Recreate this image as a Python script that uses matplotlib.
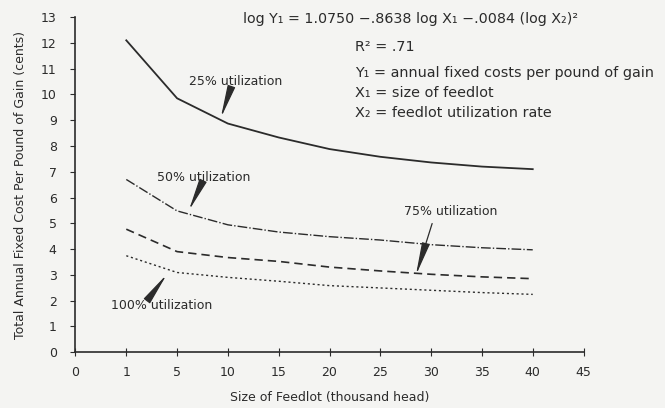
import matplotlib
matplotlib.use('Agg')
import matplotlib.pyplot as plt

# x axis is drawn as evenly spaced categories
tick_sizes = [0, 1, 5, 10, 15, 20, 25, 30, 35, 40, 45]
sizes = [1, 5, 10, 15, 20, 25, 30, 35, 40]

u25 = [12.1, 9.85, 8.87, 8.33, 7.88, 7.58, 7.36, 7.2, 7.1]
u50 = [6.7, 5.48, 4.94, 4.66, 4.48, 4.35, 4.17, 4.05, 3.97]
u75 = [4.77, 3.9, 3.67, 3.52, 3.3, 3.15, 3.02, 2.92, 2.85]
u100 = [3.74, 3.09, 2.9, 2.75, 2.58, 2.49, 2.4, 2.31, 2.24]

ink = '#2b2b2b'
paper = '#f4f4f2'

fig = plt.figure(figsize=(6.65, 4.08), dpi=100, facecolor=paper)
ax = fig.add_axes([0.1135, 0.137, 0.764, 0.821])
ax.set_facecolor(paper)

xpos = [tick_sizes.index(s) for s in sizes]
ax.plot(xpos, u25, color=ink, lw=1.3, ls='-')
ax.plot(xpos, u50, color=ink, lw=1.0, dashes=(7, 1.5, 1, 1.5))
ax.plot(xpos, u75, color=ink, lw=1.2, dashes=(5, 3))
ax.plot(xpos, u100, color=ink, lw=1.0, dashes=(1.5, 2))

ax.set_xlim(0, 10)
ax.set_ylim(0, 13)
ax.set_xticks(range(len(tick_sizes)))
ax.set_xticklabels([str(t) for t in tick_sizes])
ax.set_yticks(range(14))
for s in ['top', 'right']:
    ax.spines[s].set_visible(False)
for s in ['left', 'bottom']:
    ax.spines[s].set_color(ink)
    ax.spines[s].set_linewidth(1.2)
ax.tick_params(axis='y', direction='out', length=3.5, colors=ink, labelsize=9, pad=10)
ax.tick_params(axis='x', direction='inout', length=6, colors=ink, labelsize=9, pad=7)

ax.set_xlabel('Size of Feedlot (thousand head)', fontsize=9, color=ink, labelpad=9)
ax.set_ylabel('Total Annual Fixed Cost Per Pound of Gain (cents)', fontsize=9,
              color=ink, labelpad=10)

arrow = dict(arrowstyle='-|>,head_length=1.0,head_width=0.12', color=ink, lw=0.9,
             mutation_scale=20, shrinkA=0, shrinkB=0)
notes = [('25% utilization', (3.16, 10.52), (3.05, 10.2), (2.86, 9.09)),
         ('50% utilization', (2.53, 6.77), (2.44, 6.36), (2.23, 5.49)),
         ('75% utilization', (7.39, 5.45), (7.02, 4.99), (6.70, 2.98)),
         ('100% utilization', (1.70, 1.82), (1.43, 2.05), (1.80, 3.02))]
for label, txt, tail, tip in notes:
    ax.text(txt[0], txt[1], label, ha='center', va='center', fontsize=9, color=ink)
    ax.annotate('', xy=tip, xytext=tail, arrowprops=arrow)

fig.text(243 / 665, 1 - 19 / 408,
         'log Y\u2081 = 1.0750 \u2212.8638 log X\u2081 \u2212.0084 (log X\u2082)\u00b2',
         fontsize=10.3, color=ink, va='center')
legend_lines = ['R\u00b2 = .71',
                'Y\u2081 = annual fixed costs per pound of gain',
                'X\u2081 = size of feedlot',
                'X\u2082 = feedlot utilization rate']
legend_y = [47, 73, 93, 113]
for line, py in zip(legend_lines, legend_y):
    fig.text(355 / 665, 1 - py / 408, line, fontsize=10.4, color=ink, va='center')

fig.savefig('out.png', dpi=100, facecolor=paper)
